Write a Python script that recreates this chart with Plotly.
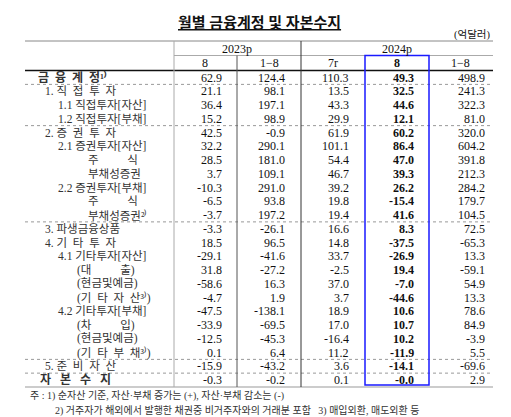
import plotly.graph_objects as go

labels = ["금  융  계  정¹⁾", "1. 직  접  투  자", "1.1 직접투자[자산]", "1.2 직접투자[부채]",
          "2. 증  권  투  자", "2.1 증권투자[자산]", "주          식", "부채성증권",
          "2.2 증권투자[부채]", "주          식", "부채성증권²⁾", "3. 파생금융상품",
          "4. 기  타  투  자", "4.1 기타투자[자산]", "(대          출)", "(현금및예금)",
          "(기  타  자  산³⁾)", "4.2 기타투자[부채]", "(차          입)", "(현금및예금)",
          "(기  타  부  채³⁾)", "5. 준  비  자  산", "자   본   수   지"]
label_x = [28, 35, 48, 48, 35, 48, 78, 78, 48, 78, 78, 35, 35, 48, 67, 67, 67, 48, 67, 67, 67, 35, 30]
bold_rows = [0, 22]

c2023_8 = [62.9, 21.1, 36.4, 15.2, 42.5, 32.2, 28.5, 3.7, -10.3, -6.5, -3.7, -3.3, 18.5, -29.1, 31.8, -58.6, -4.7, -47.5, -33.9, -12.5, 0.1, -15.9, -0.3]
c2023_18 = [124.4, 98.1, 197.1, 98.9, -0.9, 290.1, 181.0, 109.1, 291.0, 93.8, 197.2, -26.1, 96.5, -41.6, -27.2, 16.3, 1.9, -138.1, -69.5, -45.3, 6.4, -43.2, -0.2]
c2024_7 = [110.3, 13.5, 43.3, 29.9, 61.9, 101.1, 54.4, 46.7, 39.2, 19.8, 19.4, 16.6, 14.8, 33.7, -2.5, 37.0, 3.7, 18.9, 17.0, -16.4, 11.2, 3.6, 0.1]
c2024_8 = [49.3, 32.5, 44.6, 12.1, 60.2, 86.4, 47.0, 39.3, 26.2, -15.4, 41.6, 8.3, -37.5, -26.9, 19.4, -7.0, -44.6, 10.6, 10.7, 10.2, -11.9, -14.1, -0.0]
c2024_18 = [498.9, 241.3, 322.3, 81.0, 320.0, 604.2, 391.8, 212.3, 284.2, 179.7, 104.5, 72.5, -65.3, 13.3, -59.1, 54.9, 13.3, 78.6, 84.9, -3.9, 5.5, -69.6, 2.9]
col_heads = ["8", "1−8", "7r", "8", "1−8"]
years = ["2023p", "2024p"]

SERIF = "Liberation Serif, Noto Sans CJK KR"
fig = go.Figure()
ann = []
def T(x, y, t, size=12, anchor="left", bold=False, color="#111"):
    if bold:
        t = "<b>" + t + "</b>"
    ann.append(dict(x=x, y=y, xref="x", yref="y", text=t, showarrow=False, xanchor=anchor,
                    yanchor="middle", font=dict(family=SERIF, size=size, color=color)))

T(251, 15, "<u>월별 금융계정 및 자본수지</u>", size=15, anchor="center", bold=True)
T(484, 27, "(억달러)", size=10.5, anchor="right")
T(229, 41, years[0], anchor="center")
T(389, 41, years[1], anchor="center")
head_x = [197, 261, 325, 389, 452]
for i, h in enumerate(col_heads):
    T(head_x[i], 55, h, anchor="center", bold=(i == 3))

y0, dy = 69.5, 13.75
right_x = [216, 279, 343, 408, 479]
cols = [c2023_8, c2023_18, c2024_7, c2024_8, c2024_18]
for r, lab in enumerate(labels):
    y = y0 + r * dy
    T(label_x[r], y, lab, size=12 if r in bold_rows else 11.5, bold=r in bold_rows, color="#333")
    for c, col in enumerate(cols):
        v = col[r]
        s = "-0.0" if (c == 3 and r == 22) else f"{v:.1f}"
        T(right_x[c], y, s, anchor="right", bold=(c == 3))

T(20, 388, "주 : 1) 순자산 기준, 자산·부채 증가는 (+), 자산·부채 감소는 (-)", size=10, color="#333")
T(45, 402, "2) 거주자가 해외에서 발행한 채권중 비거주자와의 거래분 포함   3) 매입외환, 매도외환 등", size=10, color="#333")

shapes = []
def L(x0, y0_, x1, y1, color="#999", w=1, dash="solid"):
    shapes.append(dict(type="line", xref="x", yref="y", x0=x0, y0=y0_, x1=x1, y1=y1,
                       line=dict(color=color, width=w, dash=dash)))
ybot = y0 + 22 * dy + 7
L(17, 33, 485, 33, "#888")
L(166, 47.5, 485, 47.5, "#aaa")
L(17, 62.5, 485, 62.5, "#111", 1.5)
for r in [0, 3, 10, 20, 21]:
    yy = y0 + r * dy + dy / 2
    L(17, yy, 485, yy, "#999", 1, "dot")
L(17, ybot, 485, ybot, "#999")
L(166, 33, 166, ybot, "#aaa")
L(229, 47.5, 229, ybot, "#555")
L(293, 33, 293, ybot, "#333")
shapes.append(dict(type="rect", xref="x", yref="y", x0=357, x1=421, y0=47.5, y1=ybot - 2,
                   line=dict(color="#1a1aff", width=1.5)))

fig.update_layout(width=511, height=417, margin=dict(l=0, r=0, t=0, b=0),
                  paper_bgcolor="white", plot_bgcolor="white",
                  xaxis=dict(range=[0, 511], visible=False, fixedrange=True),
                  yaxis=dict(range=[417, 0], visible=False, fixedrange=True),
                  annotations=ann, shapes=shapes, showlegend=False)
fig.write_html("out.html")
